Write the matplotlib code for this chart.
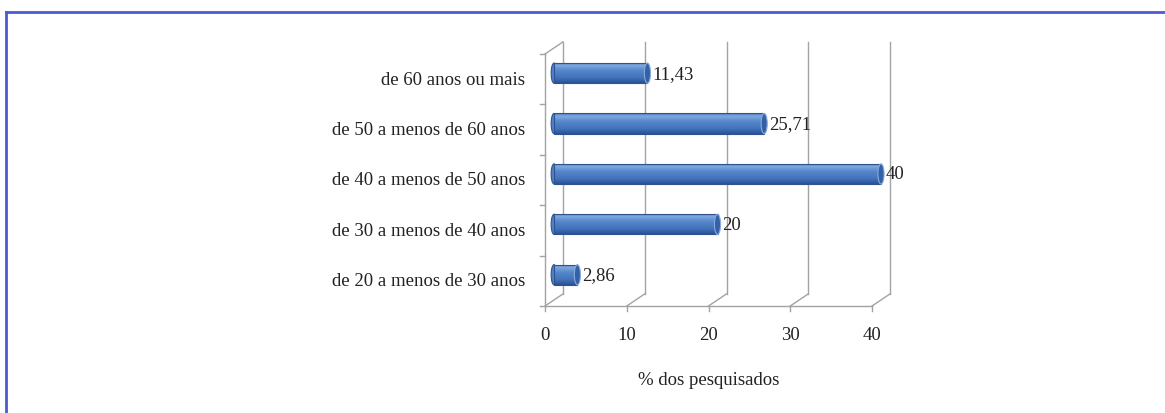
import numpy as np
import matplotlib.pyplot as plt
from matplotlib.colors import LinearSegmentedColormap
from matplotlib.patches import Ellipse, Rectangle

# --- data ---
categories = ["de 20 a menos de 30 anos", "de 30 a menos de 40 anos",
              "de 40 a menos de 50 anos", "de 50 a menos de 60 anos",
              "de 60 anos ou mais"]
values = [2.86, 20, 40, 25.71, 11.43]
value_labels = ["2,86", "20", "40", "25,71", "11,43"]
xticks = [0, 10, 20, 30, 40]
xlabel = "% dos pesquisados"

# pseudo 3D depth (data units)
DX, DY = 2.2, 0.24
BAR_H = 0.4
GRID = "#a3a3a3"
FONT = "Liberation Serif"
FS = 13.5
TXT = "#222222"

fig = plt.figure(figsize=(11.65, 4.14), dpi=100)
ax = fig.add_axes([0, 0, 1, 1])
ax.axis("off")

n = len(categories)
xmax = xticks[-1]

# back wall + floor grid
for t in xticks:
    ax.plot([t + DX, t + DX], [DY, n + DY], color=GRID, lw=1)
    ax.plot([t, t + DX], [0, DY], color=GRID, lw=1)
    ax.plot([t, t], [0, -0.1], color=GRID, lw=1)
    ax.text(t, -0.56, str(t), ha="center", va="center", fontsize=FS,
            family=FONT, color=TXT)
ax.plot([0, xmax], [0, 0], color=GRID, lw=1)

# left wall
ax.plot([0, 0], [0, n], color=GRID, lw=1)
ax.plot([0, DX], [n, n + DY], color=GRID, lw=1)
for k in range(n + 1):
    ax.plot([-0.6, 0], [k, k], color=GRID, lw=1)

# bars as shaded cylinders
cmap = LinearSegmentedColormap.from_list(
    "cyl", [(0, "#4e7dc2"), (0.15, "#80a8df"), (0.4, "#5587cb"),
            (0.75, "#4272ba"), (1, "#2a5396")])
grad = np.linspace(0, 1, 64).reshape(-1, 1)
for i, (v, lab) in enumerate(zip(values, value_labels)):
    yc = i + 0.5 + DY / 2
    left = DX / 2
    rect = Rectangle((left, yc - BAR_H / 2), v, BAR_H, facecolor="none",
                     edgecolor="#2d548f", lw=0.8, zorder=3)
    ax.add_patch(rect)
    im = ax.imshow(grad, cmap=cmap, aspect="auto", zorder=2,
                   extent=(left, left + v, yc - BAR_H / 2, yc + BAR_H / 2))
    im.set_clip_path(rect)
    ax.add_patch(Ellipse((left, yc), 0.7, BAR_H, facecolor="#4f80c6",
                         edgecolor="#2d548f", lw=0.8, zorder=1.5))
    ax.add_patch(Ellipse((left + v, yc), 0.75, BAR_H, facecolor="#3461a6",
                         edgecolor="#89aadc", lw=0.8, zorder=4))
    ax.text(left + v + 0.55, yc, lab, ha="left", va="center", fontsize=FS,
            family=FONT, color=TXT)
    ax.text(-2.45, i + 0.5, categories[i], ha="right", va="center",
            fontsize=FS, family=FONT, color=TXT)

ax.text(xmax / 2, -1.45, xlabel, ha="center", va="center", fontsize=FS,
        family=FONT, color=TXT)
ax.set_xlim(-66.67, 75.84)
ax.set_ylim(-2.123, 6.091)

# blue frame (top and left edges)
fig.add_artist(plt.Line2D([6 / 1165, 1], [1 - 13 / 414, 1 - 13 / 414],
                          transform=fig.transFigure, color="#4b5bd0", lw=2))
fig.add_artist(plt.Line2D([6 / 1165, 6 / 1165], [0, 1 - 13 / 414],
                          transform=fig.transFigure, color="#4b5bd0", lw=2))

fig.savefig("out.png", dpi=100)
